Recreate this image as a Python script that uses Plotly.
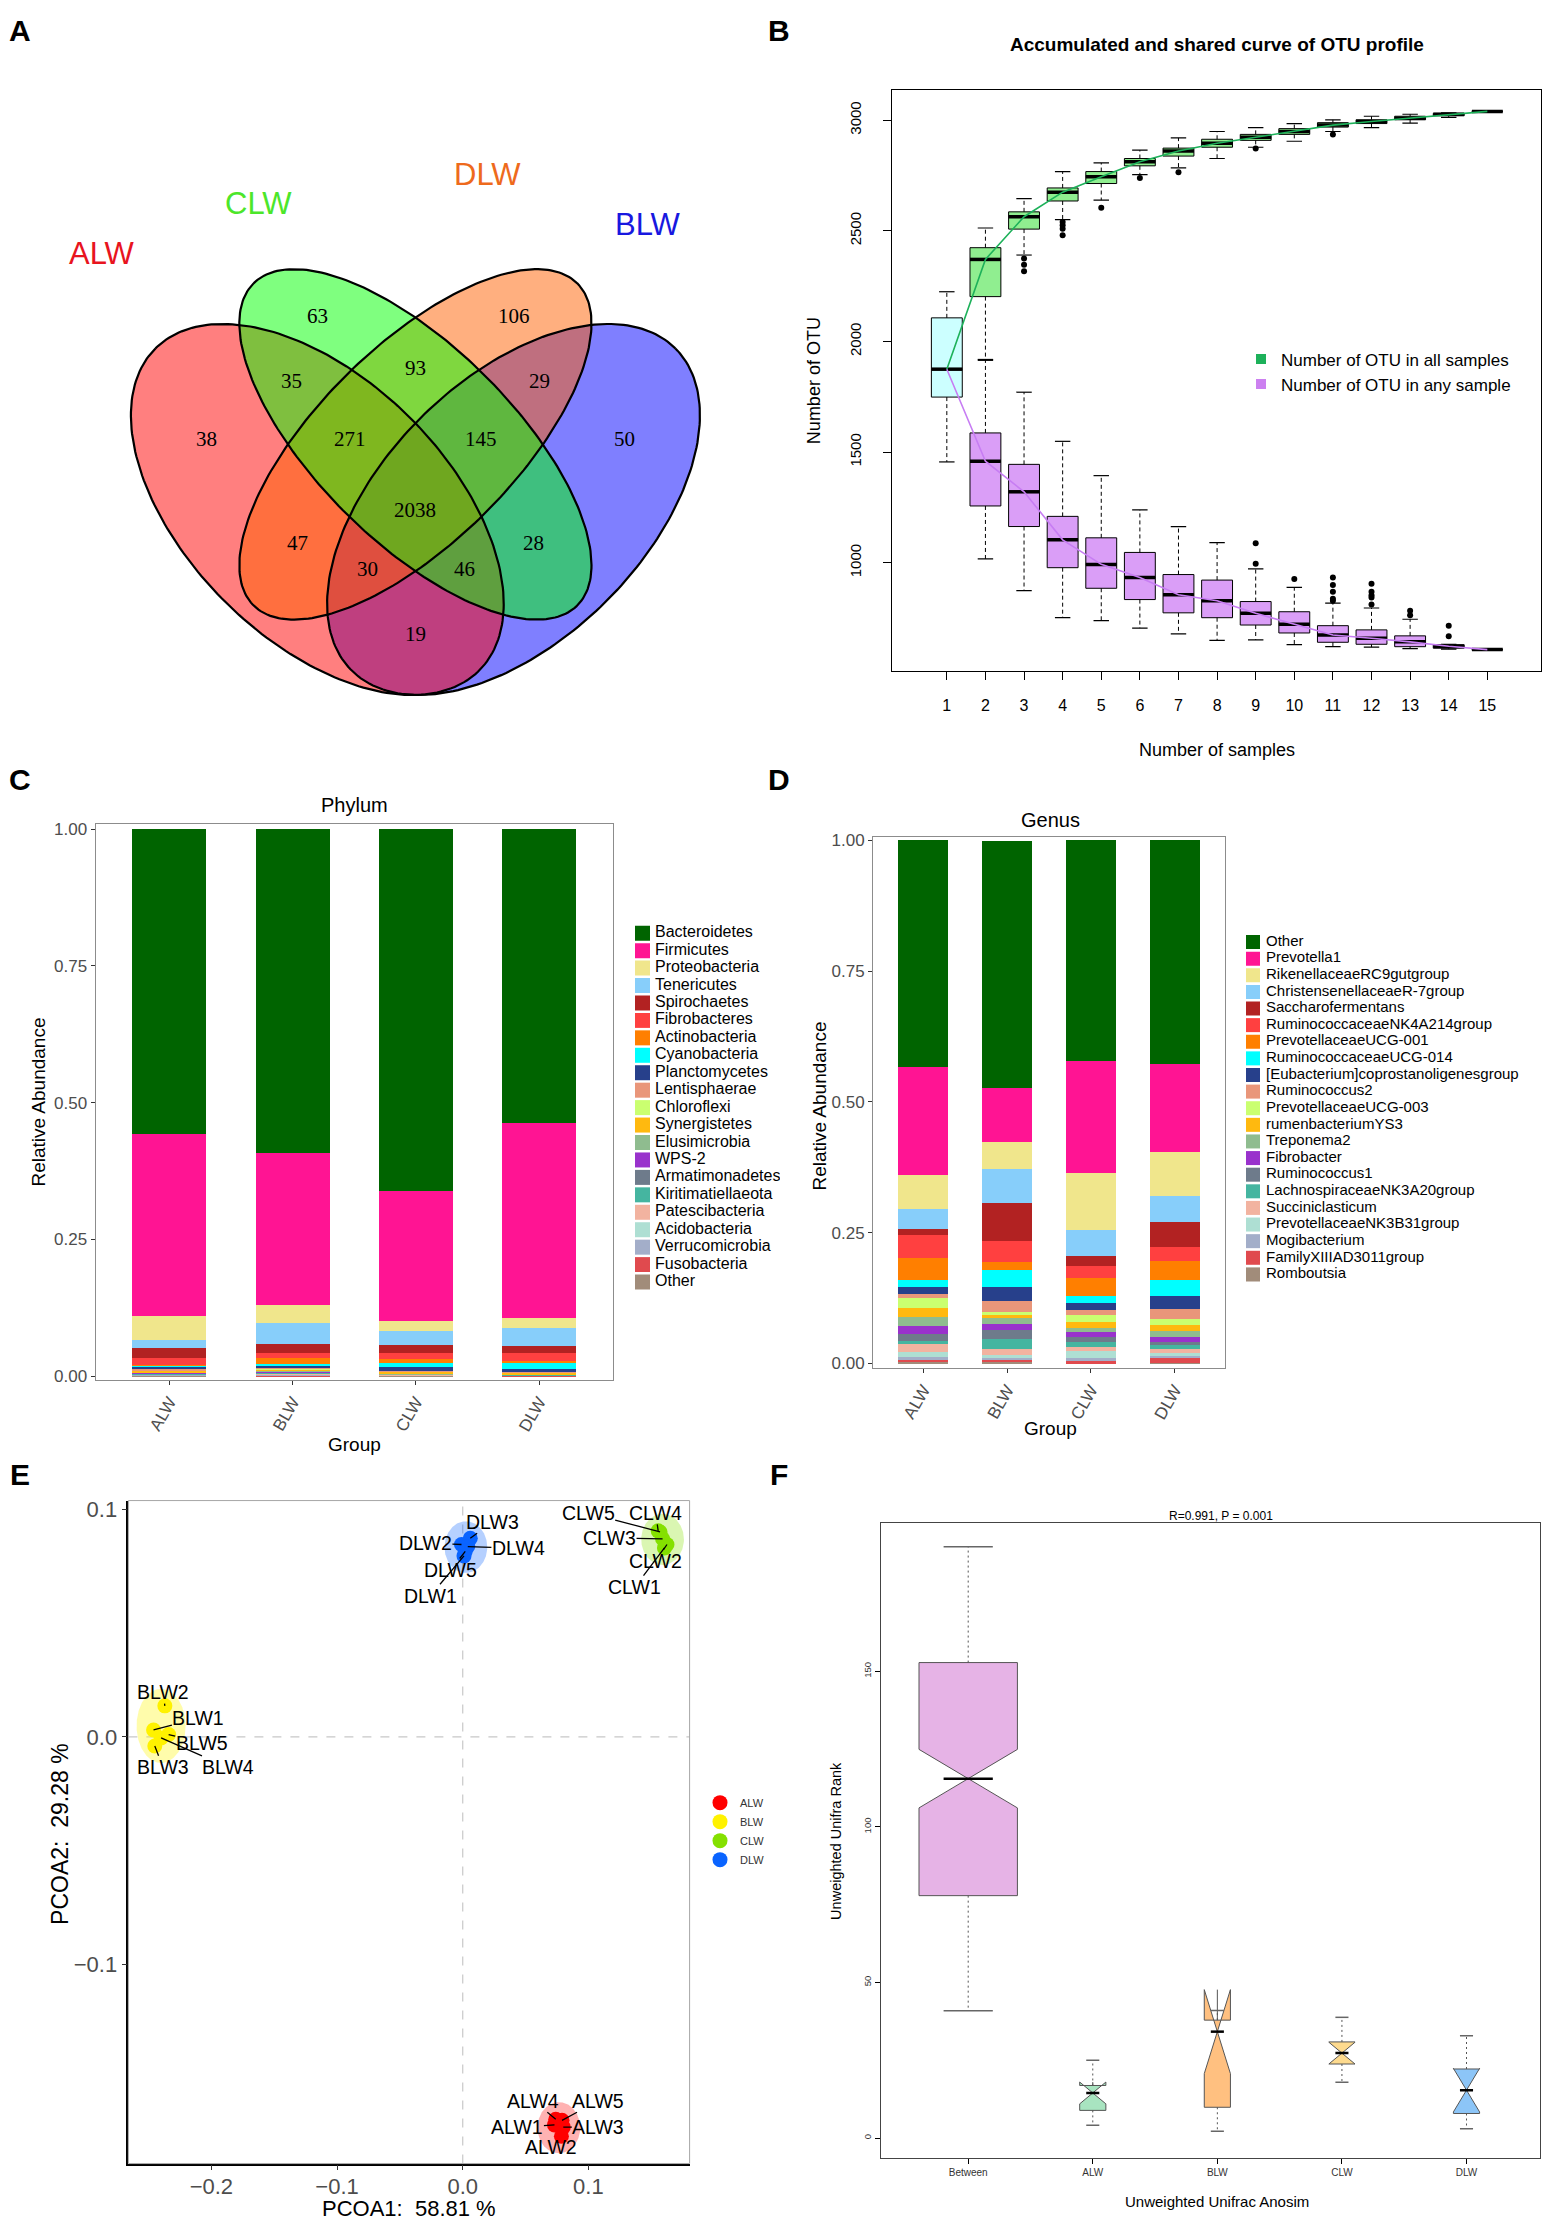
import numpy as np
import plotly.graph_objects as go

W, H = 1562, 2225
SANS = "Liberation Sans, Arial, sans-serif"
SERIF = "Liberation Serif, Times New Roman, serif"

# ============================ DATA ============================
# Panel A - Venn diagram (OTU counts per region)
venn_sets = ["ALW", "CLW", "DLW", "BLW"]
venn_counts = [38, 63, 106, 50, 35, 93, 29, 271, 145, 2038, 47, 28, 30, 46, 19]

# Panel B - accumulated and shared OTU curves (box statistics by number of samples)
n_samples = list(range(1, 16))
first_box = [1456, 1749, 1875, 2107, 2225]  # low, q1, median, q3, high (n = 1)
all_low = [1919, 2391, 2551, 2639, 2754, 2785, 2827, 2878, 2905, 2949, 2967, 2987, 3013, 3040]
all_q1 = [2203, 2508, 2635, 2714, 2794, 2838, 2878, 2909, 2936, 2969, 2985, 3002, 3020, 3040]
all_med = [2371, 2564, 2675, 2745, 2812, 2861, 2896, 2923, 2949, 2978, 2994, 3009, 3027, 3040]
all_q3 = [2424, 2586, 2694, 2768, 2827, 2874, 2914, 2936, 2962, 2989, 3002, 3018, 3031, 3040]
all_high = [2513, 2646, 2768, 2807, 2865, 2920, 2949, 2967, 2985, 3002, 3018, 3027, 3033, 3040]
all_out_n = [3, 3, 3, 4, 4, 4, 4, 5, 6, 7, 9, 11]
all_out_v = [2375, 2347, 2318, 2540, 2525, 2510, 2480, 2604, 2739, 2765, 2872, 2936]
any_low = [1018, 874, 752, 739, 705, 679, 650, 652, 630, 621, 619, 612, 610, 608]
any_q1 = [1257, 1164, 978, 885, 834, 774, 752, 719, 683, 641, 632, 621, 614, 608]
any_med = [1459, 1321, 1104, 993, 934, 856, 829, 772, 723, 674, 659, 643, 623, 608]
any_q3 = [1587, 1445, 1210, 1113, 1047, 947, 922, 825, 779, 716, 697, 670, 630, 608]
any_high = [1915, 1771, 1549, 1394, 1239, 1164, 1091, 973, 889, 818, 796, 745, 632, 608]
any_out_n = [9, 9, 10, 11, 11, 11, 11, 11, 12, 12, 12, 12, 12, 13, 13, 14, 14]
any_out_v = [1089, 996, 927, 934, 900, 869, 838, 829, 905, 869, 854, 843, 812, 783, 763, 716, 668]

# Panel C - phylum relative abundance (ALW, BLW, CLW, DLW)
groups = ["ALW", "BLW", "CLW", "DLW"]
phyla = ["Bacteroidetes", "Firmicutes", "Proteobacteria", "Tenericutes", "Spirochaetes",
         "Fibrobacteres", "Actinobacteria", "Cyanobacteria", "Planctomycetes", "Lentisphaerae",
         "Chloroflexi", "Synergistetes", "Elusimicrobia", "WPS-2", "Armatimonadetes",
         "Kiritimatiellaeota", "Patescibacteria", "Acidobacteria", "Verrucomicrobia",
         "Fusobacteria", "Other"]
phylum_values = [
    [0.557, 0.592, 0.662, 0.537],
    [0.333, 0.278, 0.237, 0.358],
    [0.044, 0.032, 0.019, 0.018],
    [0.015, 0.040, 0.026, 0.033],
    [0.017, 0.016, 0.014, 0.012],
    [0.013, 0.009, 0.012, 0.015],
    [0.002, 0.010, 0.006, 0.003],
    [0.002, 0.004, 0.008, 0.011],
    [0.004, 0.003, 0.007, 0.006],
    [0.002, 0.002, 0.001, 0.001],
    [0.001, 0.001, 0.0005, 0.0005],
    [0.003, 0.004, 0.003, 0.002],
    [0.001, 0.001, 0.001, 0.0005],
    [0.0005, 0.001, 0.0005, 0.0005],
    [0.0005, 0.001, 0.0005, 0.0005],
    [0.001, 0.001, 0.0005, 0.0005],
    [0.001, 0.001, 0.0005, 0.0005],
    [0.0005, 0.001, 0.0005, 0.0005],
    [0.001, 0.002, 0.0005, 0.0005],
    [0.0005, 0.001, 0.0005, 0.0005],
    [0.001, 0.0, 0.0005, 0.0],
]

# Panel D - genus relative abundance
genera = ["Other", "Prevotella1", "RikenellaceaeRC9gutgroup", "ChristensenellaceaeR-7group",
          "Saccharofermentans", "RuminococcaceaeNK4A214group", "PrevotellaceaeUCG-001",
          "RuminococcaceaeUCG-014", "[Eubacterium]coprostanoligenesgroup", "Ruminococcus2",
          "PrevotellaceaeUCG-003", "rumenbacteriumYS3", "Treponema2", "Fibrobacter",
          "Ruminococcus1", "LachnospiraceaeNK3A20group", "Succiniclasticum",
          "PrevotellaceaeNK3B31group", "Mogibacterium", "FamilyXIIIAD3011group", "Romboutsia"]
genus_values = [
    [0.434, 0.472, 0.422, 0.428],
    [0.206, 0.104, 0.214, 0.167],
    [0.064, 0.051, 0.108, 0.085],
    [0.039, 0.066, 0.051, 0.050],
    [0.012, 0.071, 0.019, 0.048],
    [0.043, 0.040, 0.023, 0.026],
    [0.042, 0.016, 0.033, 0.036],
    [0.013, 0.032, 0.014, 0.030],
    [0.014, 0.028, 0.014, 0.026],
    [0.007, 0.021, 0.010, 0.018],
    [0.020, 0.006, 0.012, 0.012],
    [0.017, 0.005, 0.013, 0.012],
    [0.017, 0.011, 0.006, 0.011],
    [0.016, 0.012, 0.011, 0.009],
    [0.012, 0.017, 0.008, 0.007],
    [0.006, 0.020, 0.010, 0.007],
    [0.016, 0.010, 0.009, 0.007],
    [0.010, 0.006, 0.013, 0.006],
    [0.005, 0.004, 0.006, 0.005],
    [0.005, 0.005, 0.004, 0.009],
    [0.002, 0.002, 0.000, 0.001],
]

# Panel E - PCoA coordinates (samples 1..5 of each group)
pcoa_groups = ["ALW", "BLW", "CLW", "DLW"]
alw_pc1 = [0.073, 0.0785, 0.080, 0.074, 0.079]
alw_pc2 = [-0.1705, -0.1755, -0.1715, -0.168, -0.1685]
blw_pc1 = [-0.246, -0.237, -0.245, -0.240, -0.234]
blw_pc2 = [0.003, 0.0136, -0.004, -0.0005, 0.001]
clw_pc1 = [0.1605, 0.1625, 0.159, 0.1555, 0.157]
clw_pc2 = [0.083, 0.0845, 0.087, 0.0905, 0.090]
dlw_pc1 = [0.001, -0.001, 0.006, 0.004, 0.002]
dlw_pc2 = [0.0795, 0.0845, 0.0872, 0.0836, 0.0815]
pcoa_x = {"ALW": alw_pc1, "BLW": blw_pc1, "CLW": clw_pc1, "DLW": dlw_pc1}
pcoa_y = {"ALW": alw_pc2, "BLW": blw_pc2, "CLW": clw_pc2, "DLW": dlw_pc2}

# Panel F - Anosim boxplot statistics
anosim_groups = ["Between", "ALW", "BLW", "CLW", "DLW"]
ano_low = [40.9, 4.1, 2.2, 17.9, 3.0]
ano_q1 = [77.9, 8.9, 9.9, 23.8, 7.9]
ano_med = [115.5, 14.5, 34.2, 27.3, 15.4]
ano_q3 = [152.8, 16.9, 37.9, 30.9, 22.2]
ano_high = [190.0, 25.0, 41.0, 38.8, 32.9]
ano_notch = [9.4, 3.5, 13.5, 3.5, 7.0]

# ============================ STYLE / LAYOUT ============================
venn_geom = {  # center x, center y, semi-major, semi-minor, rotation (deg) in unit square
    "ALW": (0.35, 0.47, 0.35, 0.20, 135),
    "CLW": (0.50, 0.57, 0.35, 0.15, 135),
    "DLW": (0.50, 0.57, 0.35, 0.15, 45),
    "BLW": (0.65, 0.47, 0.35, 0.20, 45),
}
venn_fill = {"ALW": "rgba(255,0,0,0.5)", "CLW": "rgba(0,255,0,0.5)",
             "DLW": "rgba(255,96,0,0.5)", "BLW": "rgba(0,0,255,0.5)"}
venn_draw_order = ["BLW", "ALW", "DLW", "CLW"]
venn_label_color = {"ALW": "#E8141E", "CLW": "#4CE62A", "DLW": "#EE6A1C", "BLW": "#1818E0"}
venn_label_pos = {"ALW": (0.021, 0.864), "CLW": (0.260, 0.940),
                  "DLW": (0.610, 0.984), "BLW": (0.856, 0.908)}
venn_count_pos = [(0.181, 0.579), (0.350, 0.768), (0.651, 0.768), (0.820, 0.579),
                  (0.311, 0.668), (0.500, 0.688), (0.690, 0.668), (0.400, 0.579),
                  (0.600, 0.579), (0.500, 0.469), (0.320, 0.419), (0.680, 0.419),
                  (0.426, 0.379), (0.575, 0.379), (0.500, 0.279)]

taxa_colors = ["#006400", "#FF1493", "#F0E68C", "#87CEFA", "#B22222", "#FF4040", "#FF7F00",
               "#00FFFF", "#27408B", "#E9967A", "#CAFF70", "#FFB90F", "#8FBC8F", "#9932CC",
               "#6E7B8B", "#45B5A0", "#F2B3A0", "#AEDFD3", "#A3AEC9", "#E04A4E", "#A18C7A"]

pcoa_colors = {"ALW": "#FF0000", "BLW": "#FFF200", "CLW": "#84E000", "DLW": "#0A64FF"}
pcoa_fill = {"ALW": "rgba(255,0,0,0.30)", "BLW": "rgba(255,245,0,0.33)",
             "CLW": "rgba(132,224,0,0.30)", "DLW": "rgba(10,100,255,0.30)"}
pcoa_label_pos = {
    "ALW": [(0.0435, -0.1715), (0.070, -0.1802), (0.1079, -0.1715), (0.0562, -0.1599), (0.1079, -0.1599)],
    "BLW": [(-0.2103, 0.0081), (-0.2385, 0.0196), (-0.2385, -0.0134), (-0.1865, -0.0134), (-0.2077, -0.0027)],
    "CLW": [(0.1369, 0.0658), (0.1535, 0.0772), (0.1168, 0.0874), (0.1535, 0.0984), (0.0998, 0.0984)],
    "DLW": [(-0.0258, 0.0620), (-0.0297, 0.0852), (0.0237, 0.0945), (0.0443, 0.0829), (-0.0095, 0.0733)],
}

ano_fill = ["#E6B3E6", "#A8E4C0", "#FFC080", "#FDDA8E", "#8CC5F7"]
ano_width = [0.79, 0.21, 0.21, 0.21, 0.21]


def xdom(a, b):
    return [a / W, b / W]


def ydom(top, bottom):
    return [1 - bottom / H, 1 - top / H]


def vsegs(xs, y0s, y1s):
    X, Y = [], []
    for x, a, b in zip(xs, y0s, y1s):
        X += [x, x, None]
        Y += [a, b, None]
    return X, Y


def hsegs(xs, ys, half):
    X, Y = [], []
    for x, y in zip(xs, ys):
        X += [x - half, x + half, None]
        Y += [y, y, None]
    return X, Y


def ellipse(cx, cy, a, b, rot_deg, n=240):
    t = np.linspace(0, 2 * np.pi, n)
    th = np.radians(rot_deg)
    x = cx + a * np.cos(t) * np.cos(th) - b * np.sin(t) * np.sin(th)
    y = cy + a * np.cos(t) * np.sin(th) + b * np.sin(t) * np.cos(th)
    return x, y


def paper_text(px, py, text, size, color="black", angle=0, family=SANS):
    return dict(x=px / W, y=1 - py / H, xref="paper", yref="paper", showarrow=False,
                xanchor="center", yanchor="middle", text=text, textangle=angle,
                font=dict(family=family, size=size, color=color))


fig = go.Figure()
ann = []
shapes = []

# ---------------------------- Panel A ----------------------------
for s in venn_draw_order:
    ex, ey = ellipse(*venn_geom[s])
    fig.add_trace(go.Scatter(x=ex, y=ey, mode="lines", fill="toself", fillcolor=venn_fill[s],
                             line=dict(width=0), xaxis="x", yaxis="y", showlegend=False,
                             hoverinfo="skip"))
for s in venn_draw_order:
    ex, ey = ellipse(*venn_geom[s])
    fig.add_trace(go.Scatter(x=ex, y=ey, mode="lines", line=dict(color="black", width=2.2),
                             xaxis="x", yaxis="y", showlegend=False, hoverinfo="skip"))
for cnt, (u, v) in zip(venn_counts, venn_count_pos):
    ann.append(dict(x=u, y=v, xref="x", yref="y", text=str(cnt), showarrow=False,
                    xanchor="center", yanchor="middle",
                    font=dict(family=SERIF, size=21, color="black")))
for s in venn_sets:
    u, v = venn_label_pos[s]
    ann.append(dict(x=u, y=v, xref="x", yref="y", text=s, showarrow=False,
                    xanchor="center", yanchor="middle",
                    font=dict(family=SANS, size=31, color=venn_label_color[s])))

# ---------------------------- Panel B ----------------------------
nb = n_samples[1:]
box_common = dict(xaxis="x2", yaxis="y2", showlegend=False, hoverinfo="skip", whiskerwidth=0,
                  boxpoints=False, width=0.8, line=dict(color="black", width=1))
fig.add_trace(go.Box(x=[1], q1=[first_box[1]], median=[first_box[2]], q3=[first_box[3]],
                     lowerfence=[first_box[1]], upperfence=[first_box[3]],
                     fillcolor="#CCFFFF", **box_common))
fig.add_trace(go.Box(x=nb, q1=all_q1, median=all_med, q3=all_q3, lowerfence=all_q1,
                     upperfence=all_q3, fillcolor="#90EE90", **box_common))
fig.add_trace(go.Box(x=nb, q1=any_q1, median=any_med, q3=any_q3, lowerfence=any_q1,
                     upperfence=any_q3, fillcolor="#DA9EF7", **box_common))

wx, wy = [], []
for xs, lo, q1, q3, hi in [([1], [first_box[0]], [first_box[1]], [first_box[3]], [first_box[4]]),
                           (nb, all_low, all_q1, all_q3, all_high),
                           (nb, any_low, any_q1, any_q3, any_high)]:
    a, b = vsegs(xs, q3, hi); wx += a; wy += b
    a, b = vsegs(xs, q1, lo); wx += a; wy += b
fig.add_trace(go.Scatter(x=wx, y=wy, mode="lines", line=dict(color="black", width=1, dash="4px,3px"),
                         xaxis="x2", yaxis="y2", showlegend=False, hoverinfo="skip"))
cx_, cy_ = [], []
for xs, lo, hi in [([1], [first_box[0]], [first_box[4]]), (nb, all_low, all_high), (nb, any_low, any_high)]:
    a, b = hsegs(xs, lo, 0.2); cx_ += a; cy_ += b
    a, b = hsegs(xs, hi, 0.2); cx_ += a; cy_ += b
fig.add_trace(go.Scatter(x=cx_, y=cy_, mode="lines", line=dict(color="black", width=1.2),
                         xaxis="x2", yaxis="y2", showlegend=False, hoverinfo="skip"))
mx, my = hsegs([1] + nb + nb, [first_box[2]] + all_med + any_med, 0.4)
fig.add_trace(go.Scatter(x=mx, y=my, mode="lines", line=dict(color="black", width=3.5),
                         xaxis="x2", yaxis="y2", showlegend=False, hoverinfo="skip"))
fig.add_trace(go.Scatter(x=n_samples, y=[first_box[2]] + all_med, mode="lines",
                         line=dict(color="#1DB15A", width=1.6), xaxis="x2", yaxis="y2",
                         showlegend=False, hoverinfo="skip"))
fig.add_trace(go.Scatter(x=n_samples, y=[first_box[2]] + any_med, mode="lines",
                         line=dict(color="#C77DF3", width=1.6), xaxis="x2", yaxis="y2",
                         showlegend=False, hoverinfo="skip"))
fig.add_trace(go.Scatter(x=all_out_n + any_out_n, y=all_out_v + any_out_v, mode="markers",
                         marker=dict(color="black", size=6), xaxis="x2", yaxis="y2",
                         showlegend=False, hoverinfo="skip"))
fig.add_trace(go.Scatter(x=[None], y=[None], mode="markers", name="Number of OTU in all samples",
                         marker=dict(symbol="square", size=10, color="#1DB15A"),
                         xaxis="x2", yaxis="y2", legend="legend"))
fig.add_trace(go.Scatter(x=[None], y=[None], mode="markers", name="Number of OTU in any sample",
                         marker=dict(symbol="square", size=10, color="#CC80F0"),
                         xaxis="x2", yaxis="y2", legend="legend"))

ann.append(paper_text(1217, 40, "<b>Accumulated and shared curve of OTU profile</b>", 19))
ann.append(paper_text(1217, 749, "Number of samples", 18))
ann.append(paper_text(814, 378, "Number of OTU", 18, angle=-90))

# ---------------------------- Panel C & D ----------------------------
def stacked(names, values, xa, ya):
    for name, vals, col in reversed(list(zip(names, values, taxa_colors))):
        fig.add_trace(go.Bar(x=groups, y=vals, name=name, marker=dict(color=col, line=dict(width=0)),
                             width=0.6, xaxis=xa, yaxis=ya, showlegend=False, hoverinfo="skip"))


def key_legend(names, xa, ya, key_x, text_x, size, fsize):
    idx = list(range(len(names)))
    fig.add_trace(go.Scatter(x=[key_x] * len(names), y=idx, mode="markers",
                             marker=dict(symbol="square", size=size, color=taxa_colors[:len(names)],
                                         line=dict(width=0)),
                             xaxis=xa, yaxis=ya, showlegend=False, hoverinfo="skip"))
    fig.add_trace(go.Scatter(x=[text_x] * len(names), y=idx, mode="text", text=names,
                             textposition="middle right",
                             textfont=dict(family=SANS, size=fsize, color="black"),
                             xaxis=xa, yaxis=ya, showlegend=False, hoverinfo="skip"))


stacked(phyla, phylum_values, "x3", "y3")
key_legend(phyla, "x4", "y4", 642.5, 655, 15, 16)
stacked(genera, genus_values, "x5", "y5")
key_legend(genera, "x6", "y6", 1253, 1266, 14, 15)

for (cx, title_y, grp_y, ylab_x, ylab_y, title) in [(354, 804, 1447, 39, 1103, "Phylum"),
                                                     (1050, 819, 1431, 820, 1106, "Genus")]:
    ann.append(paper_text(cx, title_y, title, 20))
    ann.append(paper_text(cx, grp_y, "Group", 19))
    ann.append(paper_text(ylab_x, ylab_y, "Relative Abundance", 19, angle=-90))

# ---------------------------- Panel E ----------------------------
padx, pady = 0.0135, 0.0075
for g in pcoa_groups:
    xs, ys = pcoa_x[g], pcoa_y[g]
    cx, cy = (min(xs) + max(xs)) / 2, (min(ys) + max(ys)) / 2
    a, b = (max(xs) - min(xs)) / 2 + padx, (max(ys) - min(ys)) / 2 + pady
    ex, ey = ellipse(cx, cy, a, b, 0)
    fig.add_trace(go.Scatter(x=ex, y=ey, mode="lines", fill="toself", fillcolor=pcoa_fill[g],
                             line=dict(width=0), xaxis="x7", yaxis="y7", showlegend=False,
                             hoverinfo="skip"))
for g in pcoa_groups:
    fig.add_trace(go.Scatter(x=pcoa_x[g], y=pcoa_y[g], mode="markers", name=g,
                             marker=dict(color=pcoa_colors[g], size=15),
                             xaxis="x7", yaxis="y7", legend="legend2"))
for g in pcoa_groups:
    for i, (px, py) in enumerate(zip(pcoa_x[g], pcoa_y[g])):
        lx, ly = pcoa_label_pos[g][i]
        ann.append(dict(x=px, y=py, xref="x7", yref="y7", ax=lx, ay=ly, axref="x7", ayref="y7",
                        text=f"{g}{i + 1}", showarrow=True, arrowhead=0, arrowwidth=1.3,
                        arrowcolor="black", standoff=0, borderpad=0,
                        font=dict(family=SANS, size=19.5, color="black")))
shapes.append(dict(type="line", xref="x7", yref="y7 domain", x0=0, x1=0, y0=0, y1=1,
                   line=dict(color="#C8C8C8", width=1.2, dash="dash"), layer="below"))
shapes.append(dict(type="line", xref="x7 domain", yref="y7", x0=0, x1=1, y0=0, y1=0,
                   line=dict(color="#C8C8C8", width=1.2, dash="dash"), layer="below"))
shapes.append(dict(type="rect", xref="x7 domain", yref="y7 domain", x0=0, x1=1, y0=0, y1=1,
                   line=dict(color="#A6A6A6", width=1)))
ann.append(paper_text(409, 2214, "PCOA1:  58.81 %", 22))
ann.append(paper_text(60, 1838, "PCOA2:  29.28 %", 23, angle=-90))

# ---------------------------- Panel F ----------------------------
xpos = list(range(1, len(anosim_groups) + 1))
for i in range(len(anosim_groups)):
    fig.add_trace(go.Box(x=[xpos[i]], q1=[ano_q1[i]], median=[ano_med[i]], q3=[ano_q3[i]],
                         lowerfence=[ano_q1[i]], upperfence=[ano_q3[i]], notched=True,
                         notchspan=[ano_notch[i]], notchwidth=0.5, width=ano_width[i],
                         fillcolor=ano_fill[i], line=dict(color="#555555", width=1),
                         whiskerwidth=0, boxpoints=False, xaxis="x8", yaxis="y8",
                         showlegend=False, hoverinfo="skip"))
a1, b1 = vsegs(xpos, ano_q3, ano_high)
a2, b2 = vsegs(xpos, ano_q1, ano_low)
fig.add_trace(go.Scatter(x=a1 + a2, y=b1 + b2, mode="lines",
                         line=dict(color="#555555", width=1, dash="2px,3px"),
                         xaxis="x8", yaxis="y8", showlegend=False, hoverinfo="skip"))
capx, capy = [], []
for i in range(len(xpos)):
    a, b = hsegs([xpos[i]], [ano_low[i]], ano_width[i] / 4); capx += a; capy += b
    a, b = hsegs([xpos[i]], [ano_high[i]], ano_width[i] / 4); capx += a; capy += b
fig.add_trace(go.Scatter(x=capx, y=capy, mode="lines", line=dict(color="#666666", width=1.5),
                         xaxis="x8", yaxis="y8", showlegend=False, hoverinfo="skip"))
medx, medy = [], []
for i in range(len(xpos)):
    a, b = hsegs([xpos[i]], [ano_med[i]], ano_width[i] / 4); medx += a; medy += b
fig.add_trace(go.Scatter(x=medx, y=medy, mode="lines", line=dict(color="black", width=2.5),
                         xaxis="x8", yaxis="y8", showlegend=False, hoverinfo="skip"))
ann.append(paper_text(1221, 1519, "R=0.991, P = 0.001", 12))
ann.append(paper_text(836, 1845, "Unweighted Unifra Rank", 14.5, angle=-90))
ann.append(paper_text(1217, 2207, "Unweighted Unifrac Anosim", 15))

# ---------------------------- Panel letters ----------------------------
for letter, (px, py) in zip("ABCDEF", [(20, 26), (779, 26), (20, 778), (779, 778), (20, 1477), (779, 1477)]):
    ann.append(paper_text(px, py, f"<b>{letter}</b>", 30))

# ---------------------------- Layout ----------------------------
hidden = dict(visible=False, showgrid=False, zeroline=False)
r_axis = dict(showline=True, linecolor="black", linewidth=1, mirror=True, ticks="outside",
              tickcolor="black", showgrid=False, zeroline=False)
gg_axis = dict(showline=True, linecolor="#8C8C8C", linewidth=1, mirror=True, ticks="outside",
               ticklen=4, tickcolor="#333333", showgrid=False, zeroline=False,
               tickfont=dict(family=SANS, size=17, color="#4D4D4D"))
ggE = dict(showline=True, linecolor="black", linewidth=1.6, ticks="outside", ticklen=5,
           tickcolor="#333333", showgrid=False, zeroline=False, tickformat=".1f",
           tickfont=dict(family=SANS, size=22, color="#4D4D4D"))

fig.update_layout(
    width=W, height=H, margin=dict(l=0, r=0, t=0, b=0),
    paper_bgcolor="white", plot_bgcolor="white",
    font=dict(family=SANS, color="black"),
    barmode="stack", boxmode="overlay",
    annotations=ann, shapes=shapes,
    # A
    xaxis=dict(domain=xdom(0, 781), range=[-0.1352, 1.0590], anchor="y", **hidden),
    yaxis=dict(domain=ydom(0, 720), range=[0.1443, 1.2452], anchor="x", **hidden),
    # B
    xaxis2=dict(domain=xdom(892, 1541), range=[-0.42, 16.39], anchor="y2", tickvals=n_samples,
                ticklen=8, ticklabelstandoff=12, tickfont=dict(family=SANS, size=16, color="black"),
                **r_axis),
    yaxis2=dict(domain=ydom(85, 669), range=[512.6, 3138.5], anchor="x2",
                tickvals=[1000, 1500, 2000, 2500, 3000], tickangle=-90, ticklen=8,
                ticklabelstandoff=16, tickfont=dict(family=SANS, size=15, color="black"), **r_axis),
    # C
    xaxis3=dict(domain=xdom(95.5, 613), range=[-0.6, 3.6], anchor="y3", type="category",
                tickangle=-60, **gg_axis),
    yaxis3=dict(domain=ydom(823, 1382), range=[-0.0073, 1.0096], anchor="x3",
                tickvals=[0, 0.25, 0.5, 0.75, 1.0], tickformat=".2f", **gg_axis),
    xaxis4=dict(domain=xdom(625, 780), range=[625, 780], anchor="y4", **hidden),
    yaxis4=dict(domain=ydom(900, 1320), range=[(1320 - 932.8) / 17.53, (900 - 932.8) / 17.53],
                anchor="x4", **hidden),
    # D
    xaxis5=dict(domain=xdom(873, 1225), range=[-0.6, 3.6], anchor="y5", type="category",
                tickangle=-60, **gg_axis),
    yaxis5=dict(domain=ydom(836, 1370), range=[-0.009, 1.0069], anchor="x5",
                tickvals=[0, 0.25, 0.5, 0.75, 1.0], tickformat=".2f", **gg_axis),
    xaxis6=dict(domain=xdom(1235, 1560), range=[1235, 1560], anchor="y6", **hidden),
    yaxis6=dict(domain=ydom(900, 1320), range=[(1320 - 941.7) / 16.7, (900 - 941.7) / 16.7],
                anchor="x6", **hidden),
    # E
    xaxis7=dict(domain=xdom(128.4, 689.6), range=[-0.266, 0.1805], anchor="y7",
                tickvals=[-0.2, -0.1, 0.0, 0.1], ticklabelstandoff=-3, **ggE),
    yaxis7=dict(domain=ydom(1503, 2169.3), range=[-0.1875, 0.1038], anchor="x7",
                tickvals=[-0.1, 0.0, 0.1], **ggE),
    # F
    xaxis8=dict(domain=xdom(881, 1540), range=[0.30, 5.59], anchor="y8", tickvals=xpos,
                ticktext=anosim_groups, ticklen=5, tickfont=dict(family=SANS, size=10, color="#333333"),
                **{**r_axis, "linecolor": "#444444"}),
    yaxis8=dict(domain=ydom(1526, 2164), range=[-6.5, 197.5], anchor="x8", tickvals=[0, 50, 100, 150],
                tickangle=-90, ticklen=5, tickfont=dict(family=SANS, size=9.5, color="#333333"),
                **{**r_axis, "linecolor": "#444444"}),
    legend=dict(x=1241 / W, y=1 - 338 / H, xanchor="left", yanchor="top", bgcolor="rgba(0,0,0,0)",
                font=dict(family=SANS, size=17, color="black"), itemwidth=30, tracegroupgap=0,
                traceorder="normal"),
    legend2=dict(x=700 / W, y=1 - 1792 / H, xanchor="left", yanchor="top", bgcolor="rgba(0,0,0,0)",
                 font=dict(family=SANS, size=11, color="#333333"), itemwidth=30, tracegroupgap=0,
                 traceorder="normal"),
)

fig.write_html("out.html", config={"displayModeBar": False},
               post_script="document.body.style.margin='0px';")
